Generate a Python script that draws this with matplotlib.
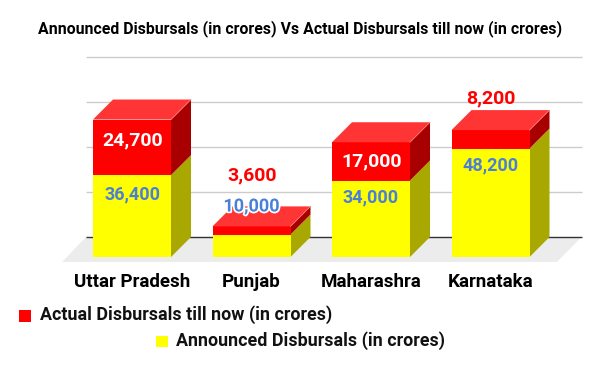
import matplotlib
matplotlib.use('Agg')
import matplotlib.pyplot as plt
import matplotlib.patheffects as pe
from matplotlib.patches import Polygon

plt.rcParams['font.family'] = ['Roboto', 'DejaVu Sans']

states = ['Uttar Pradesh', 'Punjab', 'Maharashra', 'Karnataka']
announced = [36400, 10000, 34000, 48200]
actual = [24700, 3600, 17000, 8200]
grid_values = [0, 20000, 40000, 60000, 80000]

# scale of the chart, px of the 600x371 picture
px_x0, px_step = 132, 119.5
px_base = 257
px_per_val = 45 / 20000
W, H = 600, 371
bar_w = 78 / px_step
dx = 20 / px_step
dy = 20 / px_per_val

fig = plt.figure(figsize=(6, 3.71), dpi=100)
ax = fig.add_axes([0, 0, 1, 1])
ax.set_xlim(-px_x0 / px_step, (W - px_x0) / px_step)
ax.set_ylim((px_base - H) / px_per_val, px_base / px_per_val)
ax.axis('off')


def xpx(p):
    return (p - px_x0) / px_step


def ypx(p):
    return (px_base - p) / px_per_val


# floor and gridlines on the back wall
ax.add_patch(Polygon([(xpx(62), ypx(262)), (xpx(86), ypx(237)), (xpx(581.5), ypx(237)), (xpx(557), ypx(262))],
                     fc='#ececec', ec='none', zorder=1))
for g in grid_values:
    ax.plot([xpx(86), xpx(581.5)], [g + dy, g + dy], color='#333333' if g == 0 else '#cccccc',
            lw=1, zorder=1.5, solid_capstyle='butt')


def block(ax, x, y0, y1, front, side, top=None, z=2):
    l, r = x - bar_w / 2, x + bar_w / 2
    ax.add_patch(Polygon([(r, y0), (r + dx, y0 + dy), (r + dx, y1 + dy), (r, y1)], fc=side, ec='none', zorder=z))
    ax.add_patch(Polygon([(l, y0), (r, y0), (r, y1), (l, y1)], fc=front, ec='none', zorder=z + 0.1))
    if top:
        ax.add_patch(Polygon([(l, y1), (r, y1), (r + dx, y1 + dy), (l + dx, y1 + dy)], fc=top, ec='none', zorder=z + 0.1))
        # thin light edge where the faces meet
        ax.plot([r, r + dx], [y1, y1 + dy], color='#ff8080', lw=0.5, zorder=z + 0.2)


for i in range(len(states)):
    a, b = announced[i], actual[i]
    block(ax, i, 0, a, '#ffff00', '#a8a800', z=2)
    block(ax, i, a, a + b, '#ff0000', '#a80000', top='#ff3535', z=2.5)

halo = [pe.withStroke(linewidth=2.5, foreground='white')]

# data labels: px offset from the top of the front face, negative means above it
yellow_off = [19, -28, 17, 17]
red_off = [20, -51, 19, -32]
red_col = ['white', '#ff0000', 'white', '#ff0000']
for i in range(len(states)):
    a, b = announced[i], actual[i]
    t = ax.text(i, a - yellow_off[i] / px_per_val, f'{a:,}', color='#4a7fd8', fontsize=13, fontweight='bold',
                ha='center', va='center', zorder=5)
    if i == 1:
        t.set_path_effects(halo)
    ax.text(i + 0.005, a + b - red_off[i] / px_per_val + 0.5 / px_per_val * -1, f'{b:,}', color=red_col[i],
            fontsize=14, fontweight='bold', ha='center', va='center', zorder=5)
    ax.text(i, ypx(282), states[i], color='black', fontsize=13.5, fontweight='bold', ha='center', va='center')

ax.text(xpx(300), ypx(29), 'Announced Disbursals (in crores) Vs Actual Disbursals till now (in crores)',
        fontsize=11.45, fontweight='bold', ha='center', va='center', color='black')

# legend, two centred rows
ax.add_patch(plt.Rectangle((xpx(18.5), ypx(321.5)), 12 / px_step, 12 / px_per_val, fc='#ff0000', ec='none'))
ax.text(xpx(39.5), ypx(315), 'Actual Disbursals till now (in crores)', fontsize=12.85, fontweight='bold',
        ha='left', va='center', color='#111111')
ax.add_patch(plt.Rectangle((xpx(156), ypx(347)), 11.5 / px_step, 11.5 / px_per_val, fc='#ffff00', ec='none'))
ax.text(xpx(176), ypx(341), 'Announced Disbursals (in crores)', fontsize=12.85, fontweight='bold',
        ha='left', va='center', color='#111111')

fig.savefig('out.png', dpi=100)
